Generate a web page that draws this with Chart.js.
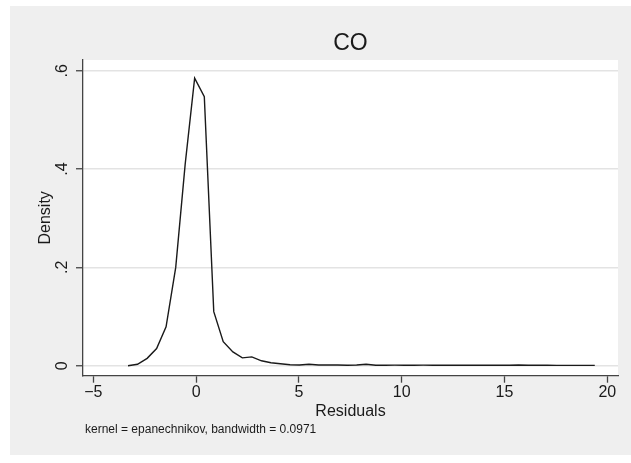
<!DOCTYPE html>
<html>
<head>
<meta charset="utf-8">
<script src="https://cdn.jsdelivr.net/npm/chart.js@4.4.1/dist/chart.umd.min.js"></script>
<style>
  html, body { margin: 0; padding: 0; background: #fff; }
  #wrap { width: 631px; height: 463px; }
</style>
</head>
<body>
<div id="wrap"><canvas id="densityChart" width="631" height="463"></canvas></div>
<script>
// kernel density estimate of residuals (50 points)
const residuals = [
  -3.31, -2.85, -2.38, -1.92, -1.46, -0.99, -0.53, -0.07, 0.40, 0.86,
  1.32, 1.79, 2.25, 2.71, 3.18, 3.64, 4.10, 4.57, 5.03, 5.49,
  5.96, 6.42, 6.88, 7.35, 7.81, 8.27, 8.74, 9.20, 9.66, 10.13,
  10.59, 11.05, 11.52, 11.98, 12.44, 12.91, 13.37, 13.83, 14.30, 14.76,
  15.22, 15.69, 16.15, 16.61, 17.08, 17.54, 18.00, 18.47, 18.93, 19.39
];
const density = [
  0.000, 0.003, 0.015, 0.035, 0.079, 0.200, 0.410, 0.585, 0.547, 0.110,
  0.049, 0.028, 0.016, 0.018, 0.010, 0.006, 0.004, 0.002, 0.0015, 0.003,
  0.0015, 0.0015, 0.0015, 0.001, 0.0015, 0.003, 0.001, 0.001, 0.0012, 0.001,
  0.001, 0.0012, 0.001, 0.001, 0.001, 0.001, 0.001, 0.001, 0.001, 0.001,
  0.001, 0.0015, 0.001, 0.001, 0.001, 0.0008, 0.0008, 0.0008, 0.0007, 0.0007
];
const xTicks = [-5, 0, 5, 10, 15, 20];
const yTicks = [0, 0.2, 0.4, 0.6];
const yTickLabels = ['0', '.2', '.4', '.6'];
const titleText = 'CO';
const noteText = 'kernel = epanechnikov, bandwidth = 0.0971';

const FONT = '"Liberation Sans", Arial, Helvetica, sans-serif';
const INK = '#1a1a1a';

// gray outer panel + white plot region
const backgroundPlugin = {
    id: 'stataBackground',
    beforeDraw(chart) {
        const { ctx, chartArea } = chart;
        ctx.save();
        ctx.fillStyle = '#ffffff';
        ctx.fillRect(0, 0, chart.width, chart.height);
        ctx.fillStyle = '#efefef';
        ctx.fillRect(10, 6, chart.width - 10, 449);
        ctx.fillStyle = '#ffffff';
        ctx.fillRect(chartArea.left, chartArea.top, chartArea.right - chartArea.left, chartArea.bottom - chartArea.top);
        ctx.restore();
    }
};

// title over the plot region, rotated y tick labels, kernel note
const textPlugin = {
    id: 'stataText',
    afterDraw(chart) {
        const { ctx, chartArea } = chart;
        const yScale = chart.scales.y;
        ctx.save();
        ctx.fillStyle = INK;
        ctx.textBaseline = 'middle';
        ctx.textAlign = 'center';

        ctx.font = '23px ' + FONT;
        ctx.fillText(titleText, (chartArea.left + chartArea.right) / 2, 44);

        ctx.font = '16px ' + FONT;
        yTicks.forEach((v, i) => {
            const py = yScale.getPixelForValue(v);
            ctx.save();
            ctx.translate(63, py);
            ctx.rotate(-Math.PI / 2);
            ctx.fillText(yTickLabels[i], 0, 0);
            ctx.restore();
        });

        ctx.font = '12px ' + FONT;
        ctx.textAlign = 'left';
        ctx.fillText(noteText, 85, 430);
        ctx.restore();
    }
};

const points = residuals.map((x, i) => ({ x: x, y: density[i] }));

new Chart(document.getElementById('densityChart').getContext('2d'), {
    type: 'line',
    data: {
        datasets: [{
            data: points,
            borderColor: INK,
            borderWidth: 1.4,
            pointRadius: 0,
            tension: 0,
            fill: false
        }]
    },
    options: {
        responsive: false,
        animation: false,
        layout: { padding: { left: 0, right: 13, top: 60, bottom: 0 } },
        plugins: {
            legend: { display: false },
            tooltip: { enabled: false },
            title: { display: false }
        },
        scales: {
            x: {
                type: 'linear',
                min: -5.5,
                max: 20.52,
                afterBuildTicks: s => { s.ticks = xTicks.map(v => ({ value: v })); },
                afterFit: s => { s.height = 87.3; },
                ticks: {
                    color: INK,
                    padding: 0,
                    font: { family: FONT, size: 16 },
                    callback: v => (v < 0 ? '\u2212' + Math.abs(v) : String(v))
                },
                grid: {
                    display: true,
                    drawOnChartArea: false,
                    tickLength: 7,
                    tickColor: '#444',
                    tickWidth: 1.3
                },
                border: { color: '#444', width: 1.3 },
                title: {
                    display: true,
                    text: 'Residuals',
                    color: INK,
                    font: { family: FONT, size: 16 },
                    padding: { top: 0, bottom: 42 }
                }
            },
            y: {
                type: 'linear',
                min: -0.0203,
                max: 0.6218,
                afterBuildTicks: s => { s.ticks = yTicks.map(v => ({ value: v })); },
                afterFit: s => { s.width = 83; },
                ticks: { display: false },
                grid: {
                    color: '#e3e3e3',
                    lineWidth: 1.5,
                    tickLength: 7,
                    tickColor: '#444',
                    tickWidth: 1.3
                },
                border: { color: '#444', width: 1.3 },
                title: {
                    display: true,
                    text: 'Density',
                    color: INK,
                    font: { family: FONT, size: 16 },
                    padding: { top: 36.4, bottom: 0 }
                }
            }
        }
    },
    plugins: [backgroundPlugin, textPlugin]
});
</script>
</body>
</html>
